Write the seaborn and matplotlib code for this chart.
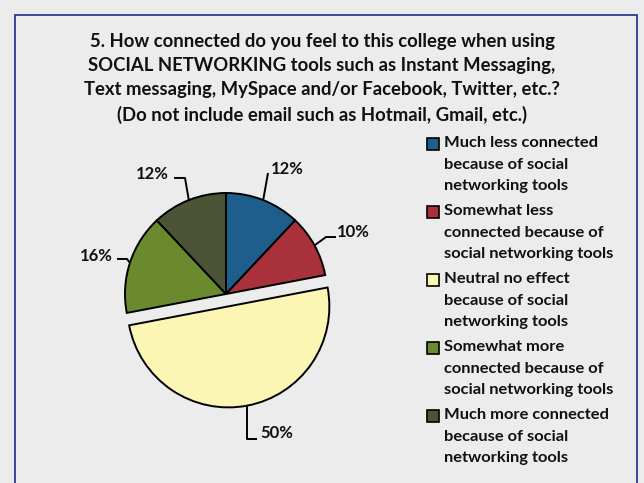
import matplotlib
matplotlib.use("Agg")
import matplotlib.pyplot as plt
from matplotlib.patches import Rectangle
import numpy as np
import seaborn as sns

# Survey responses
categories = [
    "Much less connected\nbecause of social\nnetworking tools",
    "Somewhat less\nconnected because of\nsocial networking tools",
    "Neutral no effect\nbecause of social\nnetworking tools",
    "Somewhat more\nconnected because of\nsocial networking tools",
    "Much more connected\nbecause of social\nnetworking tools",
]
percentages = [12, 10, 50, 16, 12]
slice_colors = ["#1d5e8c", "#a8313b", "#fbf6b4", "#6b8a2d", "#4b5436"]
pulled_out = [0, 0, 0.125, 0, 0]

title_text = ("5. How connected do you feel to this college when using\n"
              "SOCIAL NETWORKING tools such as Instant Messaging,\n"
              "Text messaging, MySpace and/or Facebook, Twitter, etc.?\n"
              "(Do not include email such as Hotmail, Gmail, etc.)")

sns.set_theme(style="white")
plt.rcParams["font.family"] = ["Lato", "DejaVu Sans"]
plt.rcParams["font.weight"] = "bold"

W, H = 644, 483
fig = plt.figure(figsize=(W / 100, H / 100), dpi=100, facecolor="#ececec")


def fx(px):
    return px / W


def fy(py):
    return 1 - py / H


# Blue frame around the panel
fig.patches.append(Rectangle((fx(15), fy(495)), fx(637) - fx(15), fy(15) - fy(495),
                             transform=fig.transFigure, fill=False,
                             ec="#2b3a94", lw=1.3, zorder=0))

# Title
fig.text(0.5, fy(33), title_text, ha="center", va="top",
         fontsize=13.3, fontweight="bold", color="#111111", linespacing=1.5)

# Pie
cx, cy, R, half = 226, 294, 101, 170
ax = fig.add_axes([fx(cx - half), fy(cy + half), 2 * half / W, 2 * half / H])
palette = sns.color_palette(slice_colors)
wedges, _ = ax.pie(percentages, colors=palette, startangle=90, counterclock=False,
                   explode=pulled_out,
                   wedgeprops=dict(edgecolor="black", linewidth=1.4))
lim = half / R
ax.set_xlim(-lim, lim)
ax.set_ylim(-lim, lim)
ax.set_aspect("equal")
ax.axis("off")

# Leader-line routes (after the wedge edge point) and label anchors, in radius units
label_layout = [
    ([(0.416, 1.198)], (0.446, 1.238), "left"),
    ([(0.990, 0.564), (1.089, 0.564)], (1.100, 0.614), "left"),
    (None, (0.337, -1.376), "left"),
    ([(-0.980, 0.347), (-1.079, 0.347)], (-1.119, 0.376), "right"),
    ([(-0.406, 1.149), (-0.515, 1.149)], (-0.564, 1.188), "right"),
]

for w, pct, (route, (tx, ty), ha) in zip(wedges, percentages, label_layout):
    mid = np.deg2rad((w.theta1 + w.theta2) / 2)
    ex, ey = w.center[0] + w.r * np.cos(mid), w.center[1] + w.r * np.sin(mid)
    if route is None:
        route = [(ex, -1.436), (0.307, -1.436)]
    xs = [ex] + [p[0] for p in route]
    ys = [ey] + [p[1] for p in route]
    ax.plot(xs, ys, color="black", lw=1.4, clip_on=False, solid_capstyle="butt")
    ax.text(tx, ty, f"{pct}%", ha=ha, va="center", fontsize=12,
            fontweight="bold", color="#111111", clip_on=False)

# Legend: square swatch beside the first line of each entry
for i, (lab, col) in enumerate(zip(categories, palette)):
    top = 136 + i * 68
    fig.patches.append(Rectangle((fx(427), fy(top + 14)), 12 / W, 12 / H,
                                 transform=fig.transFigure, fc=col,
                                 ec="black", lw=1.2))
    fig.text(fx(444), fy(top), lab, ha="left", va="top",
             fontsize=11.85, fontweight="bold", color="#111111", linespacing=1.69)

fig.savefig("out.png", dpi=100, facecolor=fig.get_facecolor())
